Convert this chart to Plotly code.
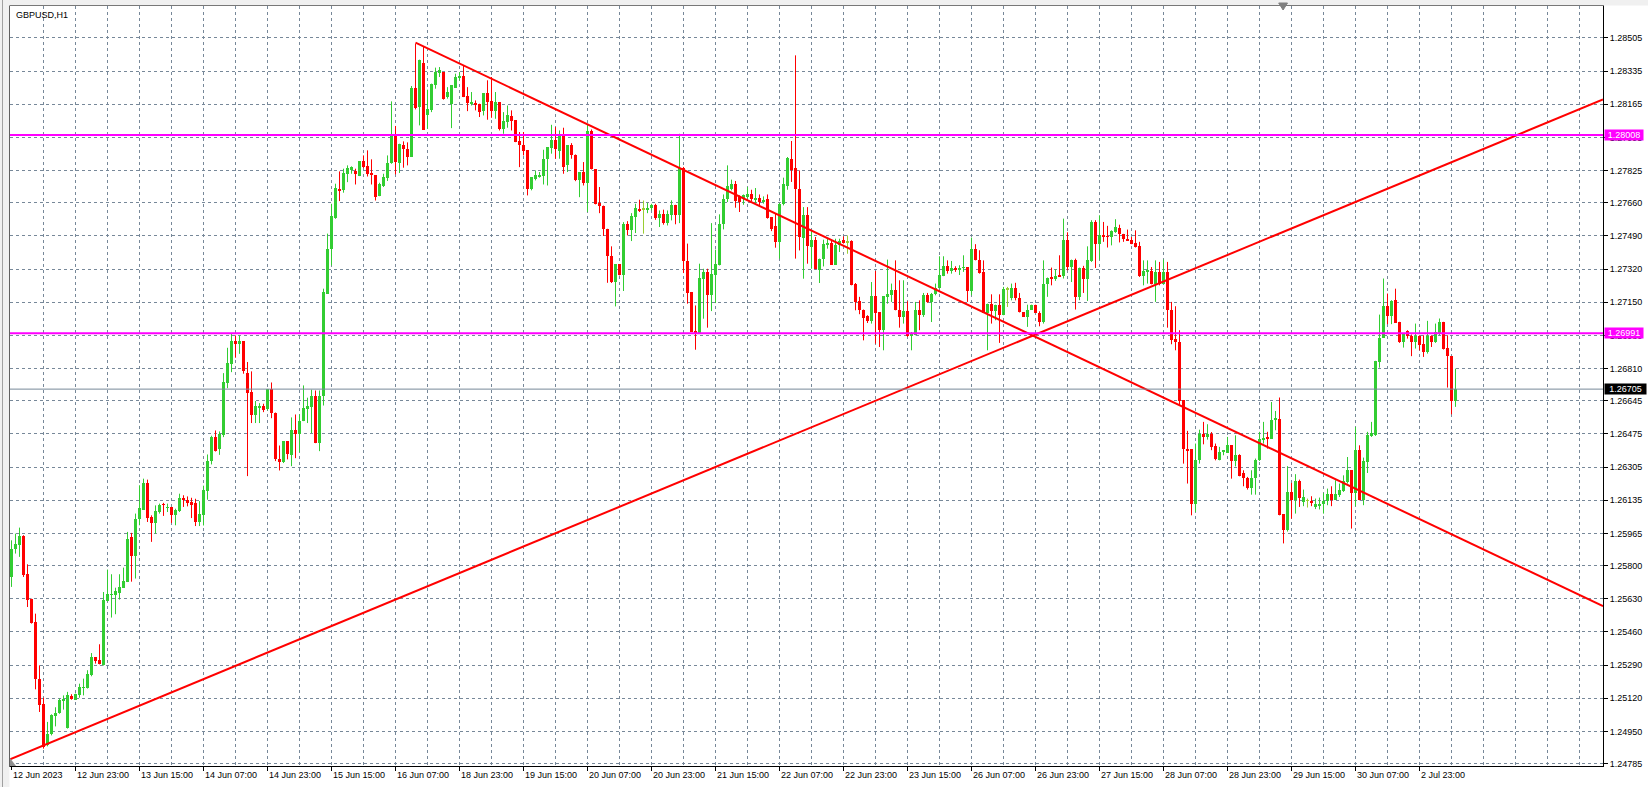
import plotly.graph_objects as go

symbol_title = "GBPUSD,H1"

# Hourly OHLC, bar index 0 = 12 Jun 2023 07:00
opens = [
    1.25742,1.25884,1.25904,1.25951,1.25756,1.25631,1.25510,1.25221,1.25089,1.24879,
    1.24935,1.25028,1.25045,1.25110,1.24968,1.25134,1.25113,1.25135,1.25173,1.25173,
    1.25238,1.25330,1.25315,1.25293,1.25619,1.25650,1.25648,1.25660,1.25686,1.25716,
    1.25945,1.25848,1.26041,1.26087,1.26226,1.26048,1.26019,1.26075,1.26115,1.26096,
    1.26099,1.26058,1.26080,1.26149,1.26138,1.26124,1.26121,1.26023,1.26058,1.26182,
    1.26339,1.26462,1.26396,1.26468,1.26736,1.26835,1.26950,1.26938,1.26950,1.26787,
    1.26688,1.26570,1.26609,1.26621,1.26601,1.26705,1.26585,1.26345,1.26331,1.26437,
    1.26365,1.26493,1.26473,1.26541,1.26603,1.26613,1.26668,1.26428,1.26668,1.27194,
    1.27421,1.27584,1.27732,1.27724,1.27809,1.27830,1.27821,1.27797,1.27872,1.27847,
    1.27814,1.27801,1.27694,1.27746,1.27787,1.27866,1.28006,1.27864,1.27954,1.27937,
    1.27895,1.28250,1.28151,1.28378,1.28112,1.28134,1.28265,1.28325,1.28330,1.28202,
    1.28165,1.28250,1.28300,1.28308,1.28206,1.28168,1.28171,1.28165,1.28129,1.28223,
    1.28182,1.28129,1.28177,1.28040,1.28074,1.28103,1.28083,1.27975,1.27959,1.27929,
    1.27729,1.27780,1.27796,1.27796,1.27886,1.27941,1.27980,1.27925,1.28014,1.27852,
    1.27954,1.27903,1.27775,1.27818,1.27761,1.28026,1.27831,1.27660,1.27646,1.27527,
    1.27390,1.27254,1.27344,1.27288,1.27549,1.27519,1.27586,1.27630,1.27625,1.27621,
    1.27633,1.27650,1.27584,1.27601,1.27556,1.27596,1.27647,1.27596,1.27840,1.27362,
    1.27203,1.26998,1.26993,1.27271,1.27305,1.27186,1.27288,1.27339,1.27550,1.27678,
    1.27732,1.27758,1.27690,1.27685,1.27693,1.27703,1.27678,1.27686,1.27668,1.27678,
    1.27587,1.27539,1.27459,1.27652,1.27746,1.27883,1.27840,1.27733,1.27482,1.27596,
    1.27433,1.27471,1.27317,1.27370,1.27445,1.27454,1.27343,1.27442,1.27467,1.27459,
    1.27463,1.27242,1.27155,1.27113,1.27078,1.27053,1.27181,1.27099,1.27007,1.27178,
    1.27186,1.27212,1.27113,1.27075,1.27104,1.26978,1.26981,1.27113,1.27084,1.27186,
    1.27152,1.27191,1.27225,1.27284,1.27335,1.27311,1.27326,1.27314,1.27326,1.27331,
    1.27208,1.27422,1.27365,1.27306,1.27096,1.27143,1.27104,1.27138,1.27084,1.27217,
    1.27170,1.27221,1.27174,1.27098,1.27075,1.27113,1.27138,1.27096,1.27049,1.27246,
    1.27277,1.27272,1.27287,1.27284,1.27472,1.27331,1.27369,1.27178,1.27328,1.27272,
    1.27362,1.27562,1.27448,1.27494,1.27489,1.27485,1.27511,1.27531,1.27499,1.27473,
    1.27468,1.27454,1.27437,1.27284,1.27309,1.27311,1.27246,1.27306,1.27246,1.27306,
    1.27113,1.26960,1.26947,1.26648,1.26397,1.26397,1.26115,1.26340,1.26477,1.26460,
    1.26477,1.26412,1.26344,1.26383,1.26380,1.26417,1.26337,1.26366,1.26275,1.26250,
    1.26200,1.26250,1.26342,1.26446,1.26456,1.26451,1.26549,1.26554,1.26063,1.25981,
    1.26178,1.26139,1.26234,1.26125,1.26132,1.26132,1.26100,1.26110,1.26114,1.26132,
    1.26169,1.26139,1.26161,1.26183,1.26229,1.26289,1.26173,1.26395,1.26139,1.26332,
    1.26465,1.26471,1.26845,1.26969,1.27130,1.27080,1.27161,1.27050,1.26947,1.27003,
    1.26978,1.26947,1.26976,1.26935,1.26896,1.26976,1.26947,1.26993,1.27050,1.26918,
    1.26874,1.26645,
]
highs = [
    1.25930,1.25964,1.25995,1.25956,1.25807,1.25631,1.25554,1.25289,1.25123,1.24999,
    1.25038,1.25074,1.25118,1.25135,1.25153,1.25141,1.25144,1.25195,1.25221,1.25264,
    1.25352,1.25330,1.25397,1.25665,1.25780,1.25756,1.25687,1.25756,1.25790,1.25973,
    1.25968,1.26067,1.26212,1.26246,1.26241,1.26058,1.26109,1.26118,1.26122,1.26118,
    1.26101,1.26092,1.26169,1.26161,1.26155,1.26148,1.26143,1.26131,1.26210,1.26370,
    1.26466,1.26493,1.26488,1.26787,1.26917,1.26989,1.26980,1.26980,1.26950,1.26844,
    1.26796,1.26644,1.26633,1.26630,1.26705,1.26739,1.26585,1.26416,1.26437,1.26437,
    1.26560,1.26575,1.26575,1.26724,1.26661,1.26702,1.26698,1.26698,1.27220,1.27502,
    1.27655,1.27758,1.27821,1.27835,1.27852,1.27847,1.27835,1.27872,1.27903,1.27929,
    1.27883,1.27801,1.27763,1.27809,1.27903,1.28180,1.28054,1.27963,1.27975,1.27970,
    1.28259,1.28476,1.28394,1.28462,1.28240,1.28271,1.28353,1.28356,1.28330,1.28253,
    1.28262,1.28322,1.28330,1.28365,1.28253,1.28228,1.28185,1.28168,1.28223,1.28288,
    1.28305,1.28228,1.28177,1.28125,1.28159,1.28134,1.28083,1.28023,1.28023,1.27929,
    1.27790,1.27826,1.27818,1.27932,1.27946,1.28060,1.28048,1.28031,1.28045,1.27954,
    1.27966,1.27908,1.27818,1.27869,1.28062,1.28036,1.27831,1.27741,1.27646,1.27527,
    1.27437,1.27344,1.27344,1.27561,1.27566,1.27607,1.27655,1.27676,1.27672,1.27659,
    1.27655,1.27655,1.27621,1.27625,1.27621,1.27673,1.27650,1.28014,1.27844,1.27451,
    1.27203,1.27134,1.27348,1.27322,1.27322,1.27556,1.27420,1.27601,1.27703,1.27852,
    1.27779,1.27772,1.27698,1.27703,1.27741,1.27727,1.27736,1.27703,1.27693,1.27703,
    1.27587,1.27604,1.27659,1.27789,1.27895,1.27977,1.28416,1.27826,1.27638,1.27638,
    1.27519,1.27485,1.27374,1.27471,1.27476,1.27471,1.27476,1.27476,1.27488,1.27493,
    1.27468,1.27249,1.27178,1.27113,1.27084,1.27254,1.27311,1.27099,1.27181,1.27369,
    1.27246,1.27365,1.27263,1.27263,1.27155,1.26998,1.27152,1.27160,1.27198,1.27198,
    1.27198,1.27246,1.27386,1.27386,1.27365,1.27362,1.27335,1.27340,1.27391,1.27331,
    1.27482,1.27448,1.27417,1.27365,1.27143,1.27191,1.27138,1.27191,1.27229,1.27229,
    1.27246,1.27250,1.27198,1.27098,1.27138,1.27138,1.27138,1.27104,1.27365,1.27277,
    1.27328,1.27319,1.27391,1.27579,1.27509,1.27369,1.27374,1.27328,1.27337,1.27437,
    1.27571,1.27571,1.27596,1.27562,1.27542,1.27519,1.27576,1.27548,1.27501,1.27523,
    1.27485,1.27519,1.27460,1.27365,1.27365,1.27331,1.27365,1.27357,1.27369,1.27357,
    1.27152,1.27130,1.27007,1.26648,1.26491,1.26397,1.26426,1.26497,1.26537,1.26525,
    1.26485,1.26426,1.26409,1.26392,1.26460,1.26417,1.26468,1.26371,1.26289,1.26255,
    1.26289,1.26349,1.26486,1.26537,1.26486,1.26639,1.26593,1.26662,1.26063,1.26310,
    1.26224,1.26269,1.26241,1.26190,1.26144,1.26156,1.26144,1.26149,1.26173,1.26195,
    1.26207,1.26238,1.26221,1.26263,1.26357,1.26289,1.26511,1.26417,1.26354,1.26486,
    1.26537,1.26850,1.27087,1.27272,1.27195,1.27161,1.27220,1.27050,1.26990,1.27007,
    1.26985,1.27041,1.26981,1.26981,1.27055,1.26981,1.27041,1.27067,1.27050,1.26981,
    1.26874,1.26810,
]
lows = [
    1.25691,1.25862,1.25845,1.25742,1.25588,1.25503,1.25166,1.25050,1.24862,1.24874,
    1.24930,1.24976,1.25041,1.25062,1.24965,1.25113,1.25113,1.25123,1.25135,1.25170,
    1.25233,1.25298,1.25294,1.25288,1.25617,1.25534,1.25551,1.25626,1.25686,1.25716,
    1.25718,1.25734,1.26007,1.26087,1.26024,1.25922,1.25964,1.26067,1.26055,1.26075,
    1.26019,1.26007,1.26075,1.26101,1.26104,1.26044,1.26003,1.26003,1.26006,1.26138,
    1.26319,1.26385,1.26368,1.26459,1.26710,1.26792,1.26866,1.26886,1.26784,1.26259,
    1.26531,1.26531,1.26531,1.26587,1.26596,1.26556,1.26336,1.26288,1.26326,1.26345,
    1.26310,1.26351,1.26382,1.26541,1.26531,1.26480,1.26428,1.26387,1.26621,1.27194,
    1.27339,1.27578,1.27669,1.27712,1.27766,1.27809,1.27754,1.27797,1.27838,1.27795,
    1.27754,1.27672,1.27694,1.27741,1.27772,1.27860,1.27806,1.27813,1.27840,1.27852,
    1.27895,1.28139,1.28057,1.28035,1.28040,1.28125,1.28245,1.28305,1.28189,1.28194,
    1.28043,1.28250,1.28288,1.28202,1.28130,1.28159,1.28134,1.28100,1.28108,1.28086,
    1.28096,1.28091,1.28031,1.28014,1.28045,1.28031,1.27971,1.27843,1.27903,1.27698,
    1.27724,1.27775,1.27789,1.27754,1.27749,1.27912,1.27886,1.27886,1.27809,1.27818,
    1.27886,1.27771,1.27689,1.27749,1.27613,1.27831,1.27652,1.27607,1.27490,1.27250,
    1.27249,1.27129,1.27288,1.27208,1.27493,1.27464,1.27505,1.27613,1.27502,1.27607,
    1.27621,1.27573,1.27536,1.27548,1.27544,1.27570,1.27550,1.27556,1.27300,1.27143,
    1.26998,1.26907,1.26989,1.27066,1.27020,1.27105,1.27146,1.27339,1.27524,1.27664,
    1.27724,1.27635,1.27613,1.27650,1.27681,1.27669,1.27656,1.27644,1.27656,1.27579,
    1.27515,1.27430,1.27374,1.27647,1.27727,1.27767,1.27374,1.27416,1.27271,1.27348,
    1.27322,1.27319,1.27249,1.27334,1.27425,1.27343,1.27343,1.27408,1.27451,1.27399,
    1.27237,1.27109,1.27089,1.26955,1.27044,1.27041,1.26938,1.26921,1.26904,1.27143,
    1.27152,1.27109,1.27020,1.27041,1.26973,1.26904,1.26981,1.27007,1.27075,1.27147,
    1.27049,1.27186,1.27225,1.27284,1.27297,1.27297,1.27306,1.27290,1.27306,1.27152,
    1.27186,1.27365,1.27297,1.27096,1.26904,1.27041,1.27058,1.26942,1.27084,1.27126,
    1.27160,1.27160,1.27098,1.27075,1.27024,1.27113,1.27096,1.27027,1.27041,1.27178,
    1.27237,1.27260,1.27284,1.27272,1.27314,1.27254,1.27113,1.27161,1.27198,1.27157,
    1.27357,1.27326,1.27369,1.27460,1.27431,1.27442,1.27506,1.27457,1.27460,1.27465,
    1.27448,1.27431,1.27280,1.27237,1.27246,1.27242,1.27152,1.27237,1.27246,1.27020,
    1.26935,1.26904,1.26622,1.26323,1.26221,1.26058,1.26075,1.26323,1.26422,1.26446,
    1.26392,1.26340,1.26340,1.26366,1.26378,1.26246,1.26309,1.26258,1.26207,1.26190,
    1.26164,1.26164,1.26337,1.26426,1.26400,1.26451,1.26494,1.26058,1.25914,1.25975,
    1.26041,1.26067,1.26101,1.26105,1.26098,1.26105,1.26090,1.26088,1.26067,1.26110,
    1.26105,1.26139,1.26152,1.26178,1.26221,1.25990,1.26105,1.26135,1.26110,1.26275,
    1.26460,1.26465,1.26815,1.26969,1.27038,1.27038,1.27044,1.26942,1.26918,1.26964,
    1.26874,1.26913,1.26904,1.26870,1.26887,1.26921,1.26942,1.26981,1.26908,1.26713,
    1.26576,1.26614,
]
closes = [
    1.25887,1.25910,1.25951,1.25751,1.25622,1.25506,1.25217,1.25084,1.24871,1.24939,
    1.25033,1.25043,1.25113,1.25113,1.25135,1.25117,1.25141,1.25176,1.25176,1.25243,
    1.25330,1.25311,1.25294,1.25622,1.25653,1.25653,1.25670,1.25691,1.25720,1.25939,
    1.25848,1.26041,1.26098,1.26226,1.26045,1.26019,1.26079,1.26111,1.26111,1.26099,
    1.26058,1.26084,1.26149,1.26139,1.26121,1.26116,1.26023,1.26063,1.26186,1.26339,
    1.26459,1.26387,1.26473,1.26739,1.26838,1.26950,1.26938,1.26950,1.26796,1.26685,
    1.26570,1.26616,1.26616,1.26596,1.26705,1.26582,1.26345,1.26336,1.26437,1.26370,
    1.26493,1.26473,1.26544,1.26608,1.26621,1.26668,1.26428,1.26671,1.27202,1.27425,
    1.27590,1.27737,1.27719,1.27814,1.27838,1.27843,1.27811,1.27872,1.27843,1.27806,
    1.27801,1.27689,1.27754,1.27792,1.27866,1.28006,1.27869,1.27960,1.27934,1.27895,
    1.28250,1.28148,1.28394,1.28035,1.28139,1.28267,1.28330,1.28339,1.28194,1.28228,
    1.28262,1.28305,1.28308,1.28202,1.28171,1.28177,1.28159,1.28125,1.28223,1.28177,
    1.28130,1.28177,1.28040,1.28079,1.28108,1.28079,1.27971,1.27954,1.27925,1.27729,
    1.27790,1.27801,1.27801,1.27886,1.27946,1.27980,1.27937,1.28014,1.27843,1.27954,
    1.27903,1.27775,1.27818,1.27761,1.28026,1.27831,1.27655,1.27643,1.27524,1.27387,
    1.27254,1.27344,1.27288,1.27549,1.27519,1.27590,1.27635,1.27621,1.27625,1.27635,
    1.27650,1.27584,1.27601,1.27556,1.27601,1.27647,1.27596,1.27840,1.27362,1.27198,
    1.26998,1.26993,1.27274,1.27305,1.27186,1.27293,1.27348,1.27553,1.27681,1.27744,
    1.27755,1.27669,1.27664,1.27698,1.27703,1.27678,1.27686,1.27664,1.27676,1.27582,
    1.27527,1.27459,1.27656,1.27755,1.27891,1.27826,1.27733,1.27485,1.27596,1.27437,
    1.27471,1.27319,1.27374,1.27447,1.27454,1.27343,1.27442,1.27462,1.27455,1.27459,
    1.27237,1.27152,1.27109,1.27070,1.27053,1.27181,1.27096,1.27007,1.27181,1.27191,
    1.27212,1.27109,1.27075,1.27104,1.26978,1.26990,1.27113,1.27084,1.27186,1.27152,
    1.27191,1.27225,1.27289,1.27335,1.27311,1.27326,1.27314,1.27326,1.27331,1.27208,
    1.27422,1.27365,1.27301,1.27096,1.27143,1.27104,1.27138,1.27084,1.27217,1.27217,
    1.27221,1.27174,1.27098,1.27075,1.27113,1.27138,1.27096,1.27049,1.27246,1.27277,
    1.27272,1.27287,1.27284,1.27472,1.27331,1.27369,1.27178,1.27328,1.27272,1.27365,
    1.27562,1.27448,1.27494,1.27489,1.27485,1.27514,1.27536,1.27499,1.27473,1.27468,
    1.27451,1.27434,1.27284,1.27309,1.27311,1.27246,1.27306,1.27246,1.27306,1.27109,
    1.26955,1.26947,1.26644,1.26397,1.26392,1.26115,1.26344,1.26477,1.26460,1.26477,
    1.26409,1.26349,1.26383,1.26388,1.26417,1.26337,1.26366,1.26258,1.26250,1.26200,
    1.26250,1.26344,1.26451,1.26456,1.26451,1.26549,1.26554,1.26058,1.25981,1.26178,
    1.26139,1.26234,1.26149,1.26152,1.26132,1.26122,1.26114,1.26116,1.26132,1.26169,
    1.26139,1.26166,1.26187,1.26234,1.26289,1.26173,1.26395,1.26139,1.26335,1.26469,
    1.26480,1.26848,1.26969,1.27130,1.27080,1.27155,1.27044,1.26947,1.26986,1.26978,
    1.26947,1.26976,1.26930,1.26896,1.26976,1.26947,1.26998,1.27050,1.26913,1.26874,
    1.26645,1.26705,
]

# time-axis labels (one every 16 bars)
x_label_texts = [
    "12 Jun 2023", "12 Jun 23:00", "13 Jun 15:00", "14 Jun 07:00", "14 Jun 23:00",
    "15 Jun 15:00", "16 Jun 07:00", "18 Jun 23:00", "19 Jun 15:00", "20 Jun 07:00",
    "20 Jun 23:00", "21 Jun 15:00", "22 Jun 07:00", "22 Jun 23:00", "23 Jun 15:00",
    "26 Jun 07:00", "26 Jun 23:00", "27 Jun 15:00", "28 Jun 07:00", "28 Jun 23:00",
    "29 Jun 15:00", "30 Jun 07:00", "2 Jul 23:00",
]
x_label_bars = [0, 16, 32, 48, 64, 80, 96, 112, 128, 144, 160, 176, 192, 208, 224,
                240, 256, 272, 288, 304, 320, 336, 352]

y_tick_labels = [
    "1.28505", "1.28335", "1.28165", "1.27995", "1.27825", "1.27660", "1.27490",
    "1.27320", "1.27150", "1.26980", "1.26810", "1.26645", "1.26475", "1.26305",
    "1.26135", "1.25965", "1.25800", "1.25630", "1.25460", "1.25290", "1.25120",
    "1.24950", "1.24785",
]

level_upper = 1.28008
level_lower = 1.26991
bid_price = closes[-1]

# trend lines: anchor points (bar index, price); drawn as rays to the right edge
trend_down_bars = [101, 298.75]
trend_down_prices = [1.28481, 1.26557]
trend_up_bars = [0, 398]
trend_up_prices = [1.24811, 1.28191]

# ---------------------------------------------------------------------------
X_MIN, X_MAX = -0.375, 397.875
Y_MIN, Y_MAX = 1.24773, 1.28669
PLOT_W = 1593
PLOT_H = 760

BULL = "#32CD32"
BEAR = "#FF0000"
DOJI = "#9ACD32"
GRID = "#778899"
FONT = "Liberation Sans, Arial, sans-serif"

groups = {"bull": ([], [], [], [], []), "bear": ([], [], [], [], []), "doji": ([], [], [], [], [])}
for i, (o, h, l, c) in enumerate(zip(opens, highs, lows, closes)):
    key = "bull" if c > o else ("bear" if c < o else "doji")
    xs, bases, heights, wx, wy = groups[key]
    xs.append(i)
    bases.append(min(o, c))
    heights.append(max(abs(c - o), 0.00004))
    wx.extend([i, i, None])
    wy.extend([l, h, None])

fig = go.Figure()
colors = {"bull": BULL, "bear": BEAR, "doji": DOJI}
for key, (xs, bases, heights, wx, wy) in groups.items():
    fig.add_trace(go.Scatter(x=wx, y=wy, mode="lines", line=dict(color=colors[key], width=1),
                             hoverinfo="skip", showlegend=False))
for key, (xs, bases, heights, wx, wy) in groups.items():
    fig.add_trace(go.Bar(x=xs, y=heights, base=bases, width=0.75,
                         marker=dict(color=colors[key], line=dict(width=0)),
                         hoverinfo="skip", showlegend=False))

# trend lines (rays)
def ray(bars, prices, x_start):
    slope = (prices[1] - prices[0]) / (bars[1] - bars[0])
    xs = [x_start, X_MAX]
    ys = [prices[0] + (x - bars[0]) * slope for x in xs]
    return xs, ys

dx, dy = ray(trend_down_bars, trend_down_prices, trend_down_bars[0])
ux, uy = ray(trend_up_bars, trend_up_prices, X_MIN)
for xs, ys in ((dx, dy), (ux, uy)):
    fig.add_trace(go.Scatter(x=xs, y=ys, mode="lines", line=dict(color="#FF0000", width=2),
                             hoverinfo="skip", showlegend=False))

shapes = []
for lvl in (level_upper, level_lower):
    shapes.append(dict(type="line", xref="paper", yref="y", x0=0, x1=1, y0=lvl, y1=lvl,
                       line=dict(color="#FF00FF", width=2), layer="above"))
shapes.append(dict(type="line", xref="paper", yref="y", x0=0, x1=1, y0=bid_price, y1=bid_price,
                   line=dict(color=GRID, width=1), layer="above"))
# window frame strips
shapes.append(dict(type="rect", xref="paper", yref="paper", x0=-10 / PLOT_W, x1=-0.6 / PLOT_W,
                   y0=-21 / PLOT_H, y1=1 + 6 / PLOT_H, fillcolor="#F0F0F0", line=dict(width=0)))
shapes.append(dict(type="rect", xref="paper", yref="paper", x0=-10 / PLOT_W, x1=1 + 45 / PLOT_W,
                   y0=1 + 0.6 / PLOT_H, y1=1 + 6 / PLOT_H, fillcolor="#F0F0F0", line=dict(width=0)))
shapes.append(dict(type="line", xref="paper", yref="paper", x0=-7.5 / PLOT_W, x1=-7.5 / PLOT_W,
                   y0=-21 / PLOT_H, y1=1 + 6 / PLOT_H, line=dict(color="#A0A0A0", width=1)))
# tick mark for first label
shapes.append(dict(type="line", xref="x", yref="paper", x0=0, x1=0, y0=0, y1=-4 / PLOT_H,
                   line=dict(color="black", width=1)))
# chart-shift marker at the top
sx = 317.9
ty0, ty1 = 1 + 3 / PLOT_H, 1 - 4 / PLOT_H
shapes.append(dict(type="path", xref="x", yref="paper",
                   path=f"M {sx-1.1},{ty0} L {sx+1.1},{ty0} L {sx},{ty1} Z",
                   fillcolor="#808080", line=dict(color="#808080", width=1)))
# scroll marker bottom-left
shapes.append(dict(type="path", xref="paper", yref="paper",
                   path=f"M 0,{8/PLOT_H} L 0,0 L {6/PLOT_W},0 Z",
                   fillcolor="#909090", line=dict(width=0)))

annotations = []
for b, t in zip(x_label_bars, x_label_texts):
    annotations.append(dict(x=b, y=0, xref="x", yref="paper", text=t, showarrow=False,
                            xanchor="left", yanchor="top", yshift=-2, xshift=-1,
                            font=dict(family=FONT, size=9, color="black")))
annotations.append(dict(x=0, y=1, xref="paper", yref="paper", text=symbol_title, showarrow=False,
                        xanchor="left", yanchor="top", xshift=4, yshift=-2,
                        font=dict(family=FONT, size=9, color="black")))
for lvl, bg, w in ((level_upper, "#FF00FF", 38), (level_lower, "#FF00FF", 38), (bid_price, "#000000", 41)):
    annotations.append(dict(x=1, y=lvl, xref="paper", yref="y", text=f"{lvl:.5f}", showarrow=False,
                            xanchor="left", yanchor="middle", xshift=1, width=w, height=10,
                            borderpad=0, bgcolor=bg, align="center",
                            font=dict(family=FONT, size=9, color="white")))

major_x = x_label_bars[1:]
minor_x = [v for v in range(8, 393, 8) if v not in major_x]

fig.update_layout(
    width=1648, height=787,
    margin=dict(l=10, r=45, t=6, b=21, pad=0),
    paper_bgcolor="white", plot_bgcolor="white",
    barmode="overlay", bargap=0,
    showlegend=False,
    shapes=shapes, annotations=annotations,
    font=dict(family=FONT, size=9, color="black"),
    xaxis=dict(range=[X_MIN, X_MAX], autorange=False, fixedrange=True,
               showline=True, mirror=True, linecolor="black", linewidth=1,
               tickmode="array", tickvals=major_x, ticks="outside", ticklen=4,
               tickcolor="black", showticklabels=False,
               showgrid=True, gridcolor=GRID, griddash="3px,3px", gridwidth=1, zeroline=False,
               minor=dict(tickvals=minor_x, showgrid=True, gridcolor=GRID, griddash="3px,3px",
                          gridwidth=1, ticks=""),
               automargin=False),
    yaxis=dict(range=[Y_MIN, Y_MAX], autorange=False, fixedrange=True, side="right",
               showline=True, mirror=True, linecolor="black", linewidth=1,
               tickmode="array", tickvals=[float(t) for t in y_tick_labels], ticktext=y_tick_labels,
               ticks="outside", ticklen=4, tickcolor="black",
               tickfont=dict(family=FONT, size=9, color="black"),
               showgrid=True, gridcolor=GRID, griddash="3px,3px", gridwidth=1, zeroline=False,
               automargin=False),
)

fig.write_html("out.html", config={"displayModeBar": False},
               post_script="document.body.style.margin='0';document.body.style.overflow='hidden';")
